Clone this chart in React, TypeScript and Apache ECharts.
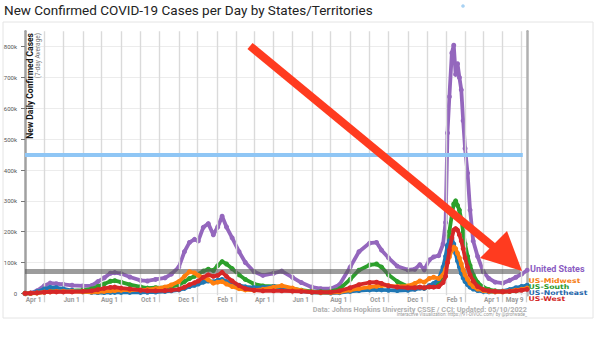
import React, { useEffect, useRef } from 'react';
import * as echarts from 'echarts';

// Dates of the sampled 7-day-average values (YYYY-MM-DD)
const dates = [
  '2020-03-01', '2020-03-10', '2020-03-20', '2020-04-01', '2020-04-10', '2020-04-20', '2020-05-01', '2020-05-15',
  '2020-06-01', '2020-06-15', '2020-06-25', '2020-07-05', '2020-07-15', '2020-07-22', '2020-08-01', '2020-08-15',
  '2020-09-01', '2020-09-12', '2020-09-25', '2020-10-10', '2020-10-20', '2020-11-01', '2020-11-10', '2020-11-18',
  '2020-11-26', '2020-12-02', '2020-12-10', '2020-12-18', '2020-12-26',
  '2021-01-02', '2021-01-09', '2021-01-16', '2021-01-25', '2021-02-05', '2021-02-15', '2021-03-01', '2021-03-15',
  '2021-04-01', '2021-04-14', '2021-05-01', '2021-05-15', '2021-06-01', '2021-06-15', '2021-07-01', '2021-07-15',
  '2021-08-01', '2021-08-15', '2021-09-01', '2021-09-12', '2021-09-20', '2021-10-01', '2021-10-15', '2021-11-01',
  '2021-11-12', '2021-11-20', '2021-11-27', '2021-12-05', '2021-12-12', '2021-12-20', '2021-12-27', '2021-12-31',
  '2022-01-03', '2022-01-06', '2022-01-10', '2022-01-13', '2022-01-16', '2022-01-19', '2022-01-22', '2022-01-25',
  '2022-01-28', '2022-01-31', '2022-02-04', '2022-02-08', '2022-02-13', '2022-02-20', '2022-03-01', '2022-03-10',
  '2022-03-20', '2022-04-01', '2022-04-12', '2022-04-22', '2022-05-01', '2022-05-10',
];

// New daily confirmed cases, 7-day average, in thousands
const unitedStates = [
  0, 0.5, 8, 25, 33, 31, 29, 26,
  24, 25, 38, 50, 65, 67, 64, 53,
  42, 40, 45, 50, 62, 85, 135, 165,
  175, 170, 214, 226, 190,
  215, 250, 215, 180, 135, 100, 70, 58,
  65, 72, 52, 35, 20, 15, 15, 28,
  85, 135, 163, 165, 140, 115, 88, 76,
  78, 93, 76, 108, 118, 122, 160, 230,
  520, 638, 780, 805, 710, 745, 700, 660,
  560, 470, 390, 270, 170, 120, 70, 48,
  36, 33, 42, 52, 62, 75,
];
const usMidwest = [
  0, 0.1, 1, 4, 5, 6, 6.5, 6,
  5, 4, 4.5, 6, 8, 9, 10, 10,
  11, 12, 15, 20, 27, 38, 55, 70,
  66, 58, 52, 44, 33,
  36, 38, 30, 22, 15, 11, 10, 13,
  20, 25, 17, 9, 4, 2.5, 2.5, 4,
  10, 15, 20, 23, 25, 25, 22, 24,
  32, 40, 36, 48, 52, 48, 60, 78,
  100, 118, 140, 150, 145, 130, 115, 95,
  75, 60, 45, 32, 22, 14, 9, 6,
  5, 5, 7, 10, 13, 17,
];
const usSouth = [
  0, 0.1, 1.5, 5, 7, 8, 8, 9,
  10, 14, 22, 30, 39, 41, 36, 28,
  21, 17, 18, 19, 22, 27, 38, 48,
  55, 62, 72, 78, 74,
  90, 103, 95, 80, 60, 45, 30, 24,
  22, 20, 15, 10, 6, 5, 6, 14,
  45, 75, 92, 95, 85, 60, 38, 22,
  18, 19, 17, 21, 25, 32, 60, 95,
  150, 200, 255, 290, 300, 285, 270, 240,
  200, 160, 120, 90, 60, 35, 20, 12,
  8, 6, 6, 8, 11, 15,
];
const usNortheast = [
  0, 0.2, 5, 14, 19, 18, 14, 9,
  5, 3, 2.5, 2.5, 3, 3, 3, 3,
  3, 3.5, 4, 6, 8, 11, 16, 22,
  26, 30, 36, 40, 37,
  42, 45, 38, 32, 26, 21, 18, 19,
  22, 21, 13, 7, 3, 1.5, 1, 2,
  6, 9, 11, 12, 11, 10, 9, 10,
  13, 17, 16, 25, 32, 45, 85, 120,
  155, 170, 175, 160, 130, 105, 85, 65,
  50, 38, 28, 20, 14, 9, 6, 5,
  5, 7, 12, 18, 22, 26,
];
const usWest = [
  0, 0.3, 1.5, 3.5, 4.5, 4.5, 4.5, 4.5,
  6, 8, 12, 16, 19, 20, 17, 14,
  10, 8, 8, 9, 10, 13, 20, 28,
  34, 40, 52, 60, 55,
  58, 68, 55, 40, 25, 15, 10, 8,
  8, 8, 7, 6, 4, 3.5, 4, 8,
  18, 28, 35, 36, 32, 24, 20, 18,
  18, 20, 18, 21, 20, 22, 35, 55,
  100, 140, 180, 205, 210, 205, 190, 170,
  145, 115, 85, 60, 40, 22, 12, 8,
  6, 5, 6, 8, 10, 13,
];

const xTickDates = [
  '2020-04-01', '2020-06-01', '2020-08-01', '2020-10-01', '2020-12-01', '2021-02-01', '2021-04-01',
  '2021-06-01', '2021-08-01', '2021-10-01', '2021-12-01', '2022-02-01', '2022-04-01', '2022-05-09',
];
const xTickLabels = [
  'Apr 1', 'Jun 1', 'Aug 1', 'Oct 1', 'Dec 1', 'Feb 1', 'Apr 1',
  'Jun 1', 'Aug 1', 'Oct 1', 'Dec 1', 'Feb 1', 'Apr 1', 'May 9',
];
const monthGridDates = [
  '2020-04-01', '2020-05-01', '2020-06-01', '2020-07-01', '2020-08-01', '2020-09-01', '2020-10-01',
  '2020-11-01', '2020-12-01', '2021-01-01', '2021-02-01', '2021-03-01', '2021-04-01', '2021-05-01',
  '2021-06-01', '2021-07-01', '2021-08-01', '2021-09-01', '2021-10-01', '2021-11-01', '2021-12-01',
  '2022-01-01', '2022-02-01', '2022-03-01', '2022-04-01', '2022-05-01',
];
const yTicks = [0, 100000, 200000, 300000, 400000, 500000, 600000, 700000, 800000];
const blueRefValue = 450000;
const grayRefValue = 73000;

const seriesNames = ['United States', 'US-Midwest', 'US-South', 'US-Northeast', 'US-West'];

const ts = (s: string) => {
  const [y, m, d] = s.split('-').map(Number);
  return Date.UTC(y, m - 1, d);
};

export default function App() {
  const ref = useRef<HTMLDivElement>(null);
  useEffect(() => {
    document.body.style.margin = '0';
    if (!ref.current) return;
    const chart = echarts.init(ref.current, null, { renderer: 'svg' });
    const xTickValues = xTickDates.map(ts);
    const toData = (vals: number[]) => dates.map((d, i) => [ts(d), vals[i] * 1000]);
    const lineSeries = (name: string, vals: number[], color: string, z: number) => ({
      name,
      type: 'line',
      data: toData(vals),
      z,
      symbol: 'circle',
      symbolSize: 5,
      showSymbol: true,
      lineStyle: { color, width: 3.8 },
      itemStyle: { color },
      silent: true,
    });
    const refLine = (z: number, lineStyle: any, data: any[]) => ({
      type: 'line',
      data: [],
      z,
      silent: true,
      markLine: {
        silent: true,
        symbol: ['none', 'none'],
        label: { show: false },
        lineStyle,
        data,
      },
    });
    const legendText = (text: string, x: number, y: number, color: string, font: string, z: number, sx = 1) => ({
      type: 'text', x, y, z, scaleX: sx,
      style: { text, font, fill: color, textVerticalAlign: 'middle' },
    });
    const option: any = {
      animation: false,
      backgroundColor: '#ffffff',
      grid: { left: 25, right: 72.8, top: 31.3, bottom: 66.85 },
      xAxis: {
        type: 'value',
        min: ts('2020-03-01'),
        max: ts('2022-05-10'),
        axisLine: { show: false },
        splitLine: { show: false },
        axisTick: {
          show: true,
          customValues: xTickValues,
          length: 9,
          lineStyle: { color: '#d0d0d0', width: 1.3 },
        },
        axisLabel: {
          customValues: xTickValues,
          formatter: (v: number) => {
            const i = xTickValues.indexOf(v);
            return i >= 0 ? xTickLabels[i] : '';
          },
          align: 'right',
          padding: [0, 3, 0, 0],
          margin: 1,
          fontSize: 6.5,
          fontWeight: 'bold',
          color: '#9a9a9a',
          fontFamily: 'Roboto',
          showMinLabel: true,
          showMaxLabel: true,
          hideOverlap: false,
        },
      },
      yAxis: [
        {
          type: 'value',
          min: -6000,
          max: 850000,
          axisLine: { show: true, onZero: false, lineStyle: { color: '#a0a0a0', width: 2.5 } },
          axisTick: { show: true, customValues: yTicks, length: 4, lineStyle: { color: '#777' } },
          axisLabel: {
            customValues: yTicks,
            formatter: (v: number) => (v === 0 ? '0' : v / 1000 + 'k'),
            fontSize: 6,
            color: '#555',
            margin: 8,
            fontFamily: 'Roboto',
            showMinLabel: true,
            showMaxLabel: true,
          },
          splitLine: { show: true, lineStyle: { color: '#ececec', width: 1 } },
        },
        {
          type: 'value',
          position: 'right',
          min: -6000,
          max: 850000,
          axisLine: { show: true, onZero: false, lineStyle: { color: '#b0b0b0', width: 2.5 } },
          axisTick: { show: false },
          axisLabel: { show: false },
          splitLine: { show: false },
        },
      ],
      series: [
        refLine(1, { color: '#dadada', width: 1.4, type: 'solid' }, monthGridDates.map((d) => ({ xAxis: ts(d) }))),
        refLine(2, { color: '#8fc6f5', width: 4, type: 'solid' }, [
          [{ coord: [ts('2020-03-01'), blueRefValue] }, { coord: [ts('2022-05-03'), blueRefValue] }],
        ]),
        lineSeries(seriesNames[0], unitedStates, '#9467bd', 3),
        lineSeries(seriesNames[2], usSouth, '#2ca02c', 4),
        lineSeries(seriesNames[3], usNortheast, '#1f77b4', 5),
        lineSeries(seriesNames[1], usMidwest, '#ff7f0e', 6),
        lineSeries(seriesNames[4], usWest, '#d62728', 7),
        refLine(9, { color: 'rgba(90,90,90,0.6)', width: 5, type: 'solid' }, [
          [{ coord: [ts('2020-03-01'), grayRefValue] }, { coord: [ts('2022-04-29'), grayRefValue] }],
        ]),
      ],
      graphic: [
        {
          type: 'rect',
          z: -10,
          shape: { x: 3, y: 22, width: 590, height: 296 },
          style: { fill: 'none', stroke: '#e4e4e4', lineWidth: 1 },
          silent: true,
        },
        {
          type: 'text',
          x: 4,
          y: 10,
          style: {
            text: 'New Confirmed COVID-19 Cases per Day by States/Territories',
            font: '400 13.5px Roboto',
            fill: '#222',
            textVerticalAlign: 'middle',
          },
        },
        { type: 'circle', shape: { cx: 463, cy: 6, r: 1.8 }, style: { fill: '#a9d2f3' } },
        {
          type: 'text',
          x: 30,
          y: 33,
          rotation: Math.PI / 2,
          z: 20,
          style: {
            text: 'New Daily Confirmed Cases',
            font: 'bold 8.5px Roboto',
            fill: '#111',
            textAlign: 'right',
            textVerticalAlign: 'middle',
          },
        },
        {
          type: 'text',
          x: 38,
          y: 33,
          rotation: Math.PI / 2,
          z: 20,
          style: {
            text: '(7-day Average)',
            font: '6.5px Roboto',
            fill: '#777',
            textAlign: 'right',
            textVerticalAlign: 'middle',
          },
        },
        legendText(seriesNames[0], 530, 269.3, '#8a5cc2', 'bold 9px Roboto', 20),
        legendText(seriesNames[1], 528.5, 280.3, '#f57c10', 'bold 6.5px "DejaVu Sans"', 21, 1.2),
        legendText(seriesNames[2], 528.5, 286.6, '#2a9a2a', 'bold 6.5px "DejaVu Sans"', 22, 1.2),
        legendText(seriesNames[3], 528.5, 292.9, '#1f66aa', 'bold 6.5px "DejaVu Sans"', 23, 1.2),
        legendText(seriesNames[4], 528.5, 299.2, '#d21f1f', 'bold 6.5px "DejaVu Sans"', 24, 1.2),
        {
          type: 'text', x: 527, y: 309, z: 20,
          style: {
            text: 'Data: Johns Hopkins University CSSE / CCI; Updated: 05/10/2022',
            font: 'bold 7.3px Roboto',
            fill: '#b0b0b0',
            textAlign: 'right',
            textVerticalAlign: 'middle',
          },
        },
        {
          type: 'text', x: 527, y: 314.8, z: 20,
          style: {
            text: 'Interactive Visualization: https://91-DIVOC.com/ by @profwade_',
            font: '4.6px Roboto',
            fill: '#999',
            textAlign: 'right',
            textVerticalAlign: 'middle',
          },
        },
        {
          type: 'line',
          z: 30,
          shape: { x1: 250, y1: 46, x2: 496, y2: 249 },
          style: { stroke: '#ff3b1f', lineWidth: 8, lineCap: 'butt' },
        },
        {
          type: 'polygon',
          z: 30,
          shape: { points: [[522, 271], [480, 258], [507, 231]] },
          style: { fill: '#ff3b1f' },
        },
      ],
    };
    chart.setOption(option);
    return () => chart.dispose();
  }, []);
  return <div ref={ref} style={{ position: 'fixed', left: 0, top: 0, width: 600, height: 362 }} />;
}
